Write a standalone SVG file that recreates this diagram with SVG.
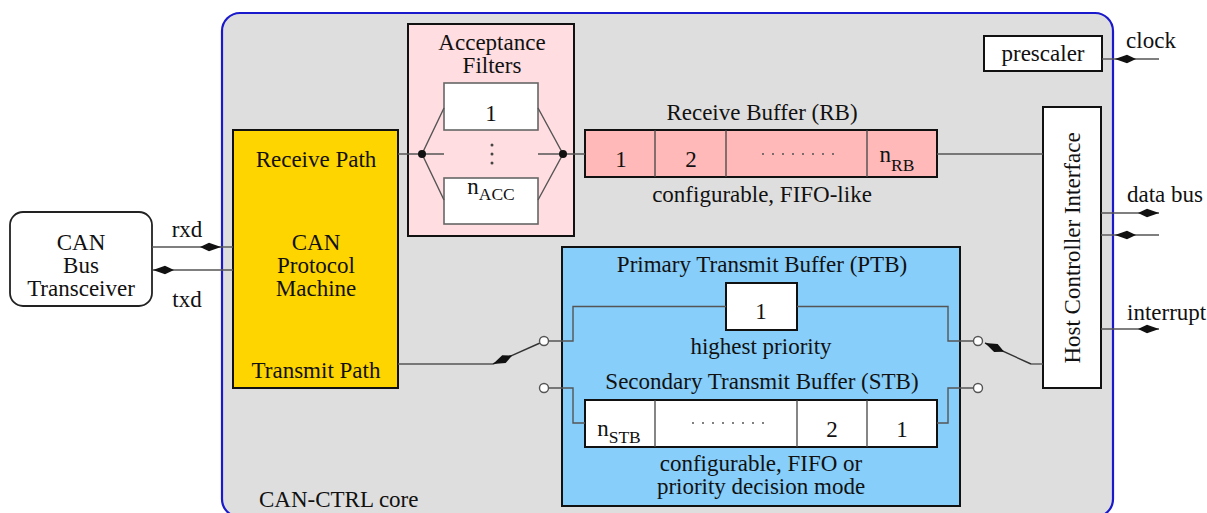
<svg xmlns="http://www.w3.org/2000/svg" width="1207" height="513" viewBox="0 0 1207 513">
<style>
text{font-family:"Liberation Serif","Times New Roman",serif;font-size:23px;fill:#111}
.m{text-anchor:middle}
.sub{font-size:17.5px}
.box{stroke:#111;stroke-width:2}
.inner{fill:#fff;stroke:#666;stroke-width:1.6}
.div{stroke:#444;stroke-width:1.3}
.c{fill:none;stroke:#555;stroke-width:1.4}
.arm{fill:none;stroke:#333;stroke-width:1.4}
.dot{fill:#444}
.o{fill:#fff;stroke:#555;stroke-width:1.4}
</style>
<defs>
<marker id="ah" markerUnits="userSpaceOnUse" viewBox="-22 -5 23 10" refX="0" refY="0" markerWidth="23" markerHeight="10" orient="auto">
<path d="M0,0 L-12,-4.3 L-21,0 L-12,4.3 Z" fill="#111"/>
</marker>
</defs>

<g id="core">
<rect x="222" y="13" width="891" height="504" rx="18" fill="#dedede" stroke="#1a1acc" stroke-width="2.2"/>
<text x="259" y="507">CAN-CTRL core</text>
</g>

<g id="transceiver">
<rect x="10" y="212" width="142" height="94" rx="13" fill="#fff" stroke="#222" stroke-width="1.8"/>
<text class="m" x="81" y="250">CAN</text>
<text class="m" x="81" y="273">Bus</text>
<text class="m" x="81" y="296">Transceiver</text>
</g>

<g id="protocol-machine">
<rect class="box" x="233" y="130" width="165" height="258" fill="#ffd500"/>
<text class="m" x="316" y="167">Receive Path</text>
<text class="m" x="316" y="250">CAN</text>
<text class="m" x="316" y="273">Protocol</text>
<text class="m" x="316" y="296">Machine</text>
<text class="m" x="316" y="378">Transmit Path</text>
</g>

<g id="acceptance-filters">
<rect class="box" x="408" y="24" width="166" height="212" fill="#ffdde0"/>
<text class="m" x="492" y="50">Acceptance</text>
<text class="m" x="492" y="73">Filters</text>
<rect class="inner" x="444" y="83" width="94" height="47"/>
<text class="m" x="491" y="121">1</text>
<circle class="dot" cx="492" cy="145" r="1.5"/>
<circle class="dot" cx="492" cy="154" r="1.5"/>
<circle class="dot" cx="492" cy="163" r="1.5"/>
<rect class="inner" x="444" y="178" width="94" height="46"/>
<text class="m" x="491" y="194">n<tspan class="sub" dy="6">ACC</tspan></text>
</g>

<g id="receive-buffer">
<text class="m" x="762" y="120">Receive Buffer (RB)</text>
<rect class="box" x="585" y="130" width="352" height="47" fill="#ffb9b9"/>
<line class="div" x1="655" y1="130" x2="655" y2="177"/>
<line class="div" x1="726" y1="130" x2="726" y2="177"/>
<line class="div" x1="867" y1="130" x2="867" y2="177"/>
<text class="m" x="621" y="167">1</text>
<text class="m" x="691" y="167">2</text>
<text class="m" x="897" y="162">n<tspan class="sub" dy="9">RB</tspan></text>
<g class="dot"><circle cx="763" cy="154" r="0.9"/><circle cx="773" cy="154" r="0.9"/><circle cx="783" cy="154" r="0.9"/><circle cx="793" cy="154" r="0.9"/><circle cx="803" cy="154" r="0.9"/><circle cx="813" cy="154" r="0.9"/><circle cx="823" cy="154" r="0.9"/><circle cx="833" cy="154" r="0.9"/></g>
<text class="m" x="762" y="202">configurable, FIFO-like</text>
</g>

<g id="prescaler">
<rect class="box" x="984" y="36" width="118" height="35" fill="#fff"/>
<text class="m" x="1043" y="61">prescaler</text>
</g>

<g id="host-controller-interface">
<rect class="box" x="1043" y="107" width="58" height="281" fill="#fff"/>
<text class="m" transform="translate(1080,248) rotate(-90)">Host Controller Interface</text>
</g>

<g id="transmit-buffers">
<rect class="box" x="562" y="247" width="398" height="259" fill="#87cefa"/>
<text class="m" x="762" y="272">Primary Transmit Buffer (PTB)</text>
<rect class="box" x="726" y="283" width="71" height="47" fill="#fff"/>
<text class="m" x="761" y="319">1</text>
<text class="m" x="761" y="354">highest priority</text>
<text class="m" x="762" y="389">Secondary Transmit Buffer (STB)</text>
<rect class="box" x="585" y="400" width="352" height="47" fill="#fff"/>
<line class="div" x1="655" y1="400" x2="655" y2="447"/>
<line class="div" x1="797" y1="400" x2="797" y2="447"/>
<line class="div" x1="867" y1="400" x2="867" y2="447"/>
<text class="m" x="619" y="436">n<tspan class="sub" dy="7">STB</tspan></text>
<g class="dot"><circle cx="693" cy="423" r="0.9"/><circle cx="703" cy="423" r="0.9"/><circle cx="713" cy="423" r="0.9"/><circle cx="723" cy="423" r="0.9"/><circle cx="733" cy="423" r="0.9"/><circle cx="743" cy="423" r="0.9"/><circle cx="753" cy="423" r="0.9"/><circle cx="763" cy="423" r="0.9"/></g>
<text class="m" x="832" y="437">2</text>
<text class="m" x="902" y="437">1</text>
<text class="m" x="761" y="471">configurable, FIFO or</text>
<text class="m" x="761" y="494">priority decision mode</text>
</g>

<g id="connectors">
<line class="c" x1="152" y1="247" x2="221" y2="247" marker-end="url(#ah)"/>
<line class="c" x1="221" y1="247" x2="233" y2="247"/>
<line class="c" x1="233" y1="270" x2="153" y2="270" marker-end="url(#ah)"/>
<text class="m" x="187" y="237">rxd</text>
<text class="m" x="187" y="307">txd</text>
<line class="c" x1="398" y1="154" x2="444" y2="154"/>
<polyline class="c" points="444,108 422,154 444,200"/>
<polyline class="c" points="538,108 563,154 538,200"/>
<line class="c" x1="538" y1="154" x2="585" y2="154"/>
<circle cx="422" cy="154" r="4" fill="#111"/>
<circle cx="563" cy="154" r="4" fill="#111"/>
<line class="c" x1="937" y1="154" x2="1043" y2="154"/>
<line class="c" x1="1159" y1="59" x2="1115" y2="59" marker-end="url(#ah)"/>
<line class="c" x1="1115" y1="59" x2="1102" y2="59"/>
<line class="c" x1="1101" y1="213" x2="1159" y2="213" marker-end="url(#ah)"/>
<line class="c" x1="1159" y1="235" x2="1115" y2="235" marker-end="url(#ah)"/>
<line class="c" x1="1115" y1="235" x2="1101" y2="235"/>
<line class="c" x1="1101" y1="329" x2="1159" y2="329" marker-end="url(#ah)"/>
<text class="m" x="1151" y="48">clock</text>
<text class="m" x="1165" y="202">data bus</text>
<text x="1127" y="320">interrupt</text>
<line class="c" x1="398" y1="364" x2="493" y2="364"/>
<line class="arm" x1="540" y1="343" x2="493" y2="364" marker-end="url(#ah)"/>
<polyline class="c" points="548.5,341 573,341 573,306.5 726,306.5"/>
<polyline class="c" points="548.5,388 573,388 573,423 585,423"/>
<polyline class="c" points="797,306.5 948,306.5 948,341 973.5,341"/>
<polyline class="c" points="937,423 948,423 948,388 973.5,388"/>
<circle class="o" cx="544" cy="341" r="4.5"/>
<circle class="o" cx="544" cy="388" r="4.5"/>
<circle class="o" cx="978" cy="341" r="4.5"/>
<circle class="o" cx="978" cy="388" r="4.5"/>
<line class="arm" x1="1031" y1="364" x2="985" y2="343" marker-end="url(#ah)"/>
<line class="c" x1="1031" y1="364" x2="1043" y2="364"/>
</g>
</svg>
